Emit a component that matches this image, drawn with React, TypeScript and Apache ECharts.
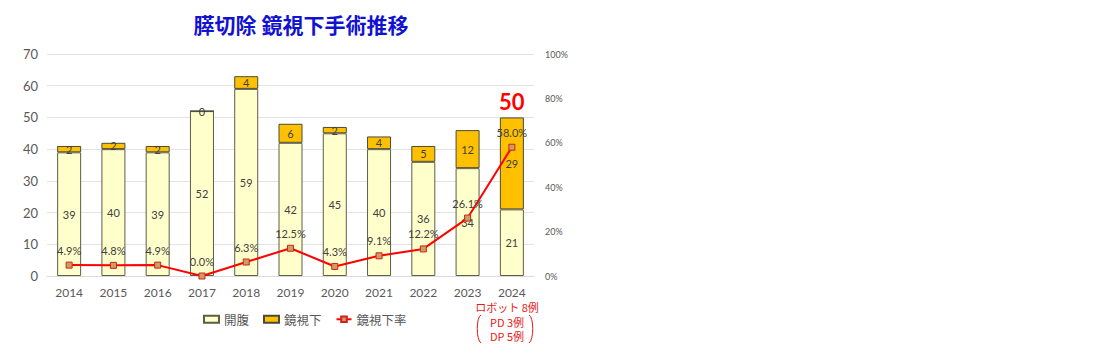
import React, { useEffect, useRef } from "react";
import * as echarts from "echarts";

const years = ["2014", "2015", "2016", "2017", "2018", "2019", "2020", "2021", "2022", "2023", "2024"];
const openCases = [39, 40, 39, 52, 59, 42, 45, 40, 36, 34, 21];
const lapCases = [2, 2, 2, 0, 4, 6, 2, 4, 5, 12, 29];
const lapRate = [4.9, 4.8, 4.9, 0.0, 6.3, 12.5, 4.3, 9.1, 12.2, 26.1, 58.0];
const titleText = "膵切除 鏡視下手術推移";
const seriesNames = ["開腹", "鏡視下", "鏡視下率"];
const robotNote = ["ロボット 8例", "PD 3例", "DP 5例"];

const FONT = 'Lato, "Noto Sans CJK JP", sans-serif';
const JP = '"Noto Sans CJK JP", sans-serif';

export default function App() {
  const ref = useRef<HTMLDivElement>(null);
  useEffect(() => {
    const chart = echarts.init(ref.current!, null, { renderer: "svg" });
    const last = years.length - 1;
    const total = openCases[last] + lapCases[last];
    chart.setOption({
      animation: false,
      textStyle: { fontFamily: FONT },
      title: {
        text: titleText,
        left: 296,
        textAlign: "center",
        top: 8,
        textStyle: { color: "#1212D2", fontSize: 21, fontWeight: "bold", fontFamily: JP },
      },
      grid: { left: 47, right: 580, top: 54, bottom: 80 },
      legend: {
        left: 198,
        top: 308,
        itemWidth: 15,
        itemHeight: 7,
        itemGap: 14,
        textStyle: { color: "#595959", fontSize: 12.5, fontFamily: JP },
        data: [
          { name: seriesNames[0], icon: "rect" },
          { name: seriesNames[1], icon: "rect" },
          { name: seriesNames[2] },
        ],
      },
      xAxis: {
        type: "category",
        data: years,
        axisLine: { lineStyle: { color: "#D9D9D9" } },
        axisTick: { show: false },
        axisLabel: { color: "#595959", fontSize: 12, margin: 10 },
      },
      yAxis: [
        {
          type: "value",
          min: 0,
          max: 70,
          interval: 10,
          axisLine: { show: false },
          axisTick: { show: false },
          splitLine: { lineStyle: { color: "#E3E3E3" } },
          axisLabel: { color: "#595959", fontSize: 13, margin: 9 },
        },
        {
          type: "value",
          min: 0,
          max: 100,
          interval: 20,
          axisLine: { show: false },
          axisTick: { show: false },
          splitLine: { show: false },
          axisLabel: { color: "#595959", fontSize: 9, margin: 11, formatter: "{value}%" },
        },
      ],
      series: [
        {
          name: seriesNames[0],
          type: "bar",
          stack: "a",
          barWidth: 24,
          data: openCases,
          itemStyle: { color: "#FFFFCC", borderColor: "#5E5E45", borderWidth: 1 },
          label: { show: true, position: "inside", color: "#404040", fontSize: 11 },
        },
        {
          name: seriesNames[1],
          type: "bar",
          stack: "a",
          barWidth: 24,
          data: lapCases,
          itemStyle: { color: "#FFC000", borderColor: "#4A4A3A", borderWidth: 1 },
          label: { show: true, position: "inside", color: "#404040", fontSize: 11 },
          markPoint: {
            symbol: "rect",
            symbolSize: 1,
            itemStyle: { color: "transparent" },
            label: {
              show: true,
              color: "#FF0000",
              fontSize: 22,
              fontWeight: "bold",
              offset: [0, -16],
              formatter: String(total),
            },
            data: [{ coord: [last, total] }],
          },
        },
        {
          name: seriesNames[2],
          type: "line",
          yAxisIndex: 1,
          data: lapRate,
          symbol: "rect",
          symbolSize: 6,
          lineStyle: { color: "#FF0000", width: 2 },
          itemStyle: { color: "#C8A060", borderColor: "#D02020", borderWidth: 1 },
          label: {
            show: true,
            position: "top",
            distance: 6,
            color: "#404040",
            fontSize: 11,
            formatter: (p: any) => Number(p.value).toFixed(1) + "%",
          },
          z: 5,
        },
      ],
      graphic: [
        {
          type: "text",
          x: 507,
          y: 307,
          style: { text: robotNote[0], fill: "#E81818", fontSize: 11, align: "center", verticalAlign: "middle", fontFamily: JP },
        },
        {
          type: "text",
          x: 507,
          y: 322,
          style: { text: robotNote[1], fill: "#E81818", fontSize: 11, align: "center", verticalAlign: "middle", fontFamily: JP },
        },
        {
          type: "text",
          x: 507,
          y: 336,
          style: { text: robotNote[2], fill: "#E81818", fontSize: 11, align: "center", verticalAlign: "middle", fontFamily: JP },
        },
        {
          type: "bezierCurve",
          shape: { x1: 481, y1: 315, cpx1: 476, cpy1: 317, cpx2: 476, cpy2: 340, x2: 481, y2: 343 },
          style: { stroke: "#E81818", lineWidth: 1, fill: null },
        },
        {
          type: "bezierCurve",
          shape: { x1: 529, y1: 315, cpx1: 534, cpy1: 317, cpx2: 534, cpy2: 340, x2: 529, y2: 343 },
          style: { stroke: "#E81818", lineWidth: 1, fill: null },
        },
      ],
    });
    return () => chart.dispose();
  }, []);
  return (
    <div
      ref={ref}
      style={{ position: "absolute", left: 0, top: 0, width: 1114, height: 356, background: "#fff" }}
    />
  );
}
